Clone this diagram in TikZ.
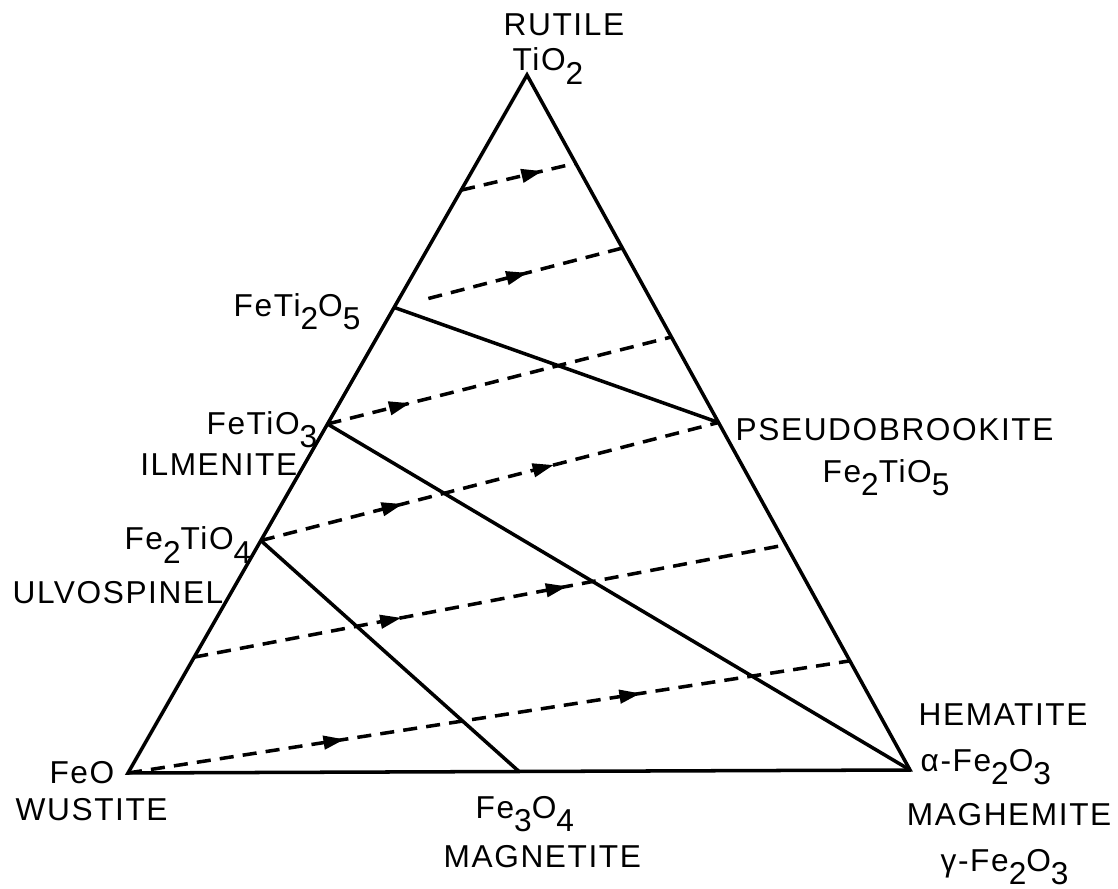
\documentclass[tikz,border=0pt]{standalone}
\usepackage{fontspec}
\setmainfont{Liberation Sans}[LetterSpace=5]
\usetikzlibrary{calc,arrows.meta,decorations.markings}
\newcommand{\sbs}[1]{\raisebox{-0.8ex}{#1}}

\begin{document}
\begin{tikzpicture}[x=0.01cm,y=-0.01cm,
    lbl/.style={font=\fontsize{9}{10}\selectfont,inner sep=0pt,anchor=west},
    edge/.style={line width=1pt},
    oxid/.style={line width=1pt,dash pattern=on 4pt off 2.6pt},
    arw/.style={postaction={decorate,decoration={markings,
        mark=at position #1 with {\arrow{Triangle[length=6pt,width=3.8pt]}}}}}]
  \useasboundingbox (0,0) rectangle (1118,889);
  % vertices and compounds
  \coordinate (rut) at (527,75);
  \coordinate (wus) at (128,773);
  \coordinate (hem) at (910,770);
  \coordinate (mag) at ($(wus)!0.5!(hem)$);
  \coordinate (fti) at ($(wus)!0.667!(rut)$);
  \coordinate (ilm) at ($(wus)!0.5!(rut)$);
  \coordinate (ulv) at ($(wus)!0.333!(rut)$);
  \coordinate (pbk) at ($(hem)!0.5!(rut)$);
  % ends of the oxidation lines
  \foreach \l/\r/\n in {0.835/0.873/1,0.667/0.751/2,0.5/0.623/3,0.333/0.5/4,0.166/0.324/5,0/0.157/6}
    {\coordinate (ox\n l) at ($(wus)!\l!(rut)$);
     \coordinate (ox\n r) at ($(hem)!\r!(rut)$);}
  \coordinate (ox2s) at ($(ox2l)!0.15!(ox2r)$);
  % triangle and tie lines
  \draw[edge,line join=miter] (wus) -- (rut) -- (hem) -- cycle;
  \draw[edge] (fti) -- (pbk);
  \draw[edge] (ilm) -- (hem);
  \draw[edge] (ulv) -- (mag);
  % oxidation paths
  \draw[oxid,arw=0.71] (ox1l) -- (ox1r);
  \draw[oxid,arw=0.51] (ox2s) -- (ox2r);
  \draw[oxid,arw=0.24] (ox3l) -- (ox3r);
  \draw[oxid,arw=0.31,arw=0.64] (ox4l) -- (ox4r);
  \draw[oxid,arw=0.35,arw=0.63] (ox5l) -- (ox5r);
  \draw[oxid,arw=0.30,arw=0.71] (ox6l) -- (ox6r);
  % labels
  \node[lbl] (tRut) at (503,25) {RUTILE};
  \node[lbl] (tTiO) at (512,66) {TiO\sbs{2}};
  \node[lbl] (tFti) at (233,312) {FeTi\sbs{2}O\sbs{5}};
  \node[lbl,anchor=east] (tIlmF) at (318,430) {FeTiO\sbs{3}};
  \node[lbl,anchor=east] (tIlm) at (298,465) {ILMENITE};
  \node[lbl,anchor=east] (tUlvF) at (252,545) {Fe\sbs{2}TiO\sbs{4}};
  \node[lbl] (tUlv) at (12,593) {ULVOSPINEL};
  \node[lbl] (tPbk) at (735,430) {PSEUDOBROOKITE};
  \node[lbl] (tPbkF) at (822,478) {Fe\sbs{2}TiO\sbs{5}};
  \node[lbl] (tHem) at (918,715) {HEMATITE};
  \node[lbl] (tHemF) at (920,767) {α-Fe\sbs{2}O\sbs{3}};
  \node[lbl,anchor=east] (tMgh) at (1112,815) {MAGHEMITE};
  \node[lbl] (tMghF) at (940,867) {γ-Fe\sbs{2}O\sbs{3}};
  \node[lbl,anchor=east] (tWusF) at (115,773) {FeO};
  \node[lbl] (tWus) at (15,810) {WUSTITE};
  \node[lbl] (tMagF) at (475,814) {Fe\sbs{3}O\sbs{4}};
  \node[lbl] (tMag) at (443,857) {MAGNETITE};
\end{tikzpicture}
\end{document}
